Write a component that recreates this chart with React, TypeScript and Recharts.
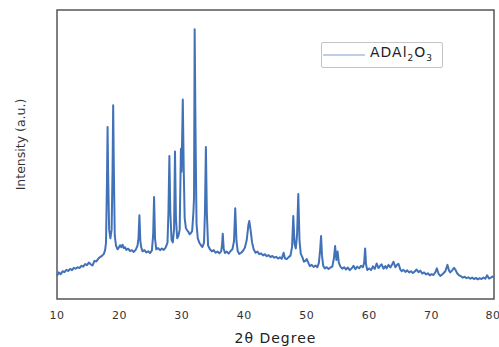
import { LineChart, Line, XAxis, YAxis, ReferenceArea, Legend, Label } from 'recharts';

// XRD pattern: [2θ, intensity (a.u., 0-100 = plot height)]
const lowAngle: [number, number][] = [
  [10.0, 8.0], [10.3, 9.2], [10.6, 8.6], [10.9, 9.6], [11.2, 9.3], [11.5, 10.1], [11.8, 9.7],
  [12.1, 10.4], [12.4, 10.0], [12.7, 10.8], [13.0, 10.5], [13.3, 11.0], [13.6, 10.7], [13.9, 11.5],
  [14.2, 11.2], [14.5, 12.1], [14.8, 11.7], [15.1, 12.6], [15.4, 12.0], [15.7, 11.6], [16.0, 13.2],
  [16.3, 13.0], [16.6, 13.9], [16.9, 14.5], [17.2, 14.9], [17.5, 15.6], [17.7, 16.8], [17.85, 19.5],
  [18.0, 40], [18.1, 59.5], [18.2, 42], [18.35, 24], [18.55, 21], [18.75, 24], [18.9, 45],
  [19.0, 67], [19.1, 46], [19.25, 22], [19.45, 18.5], [19.7, 17.2], [19.9, 17.8],
];

const midAngle: [number, number][] = [
  [20.1, 18.6], [20.3, 17.9], [20.5, 18.8], [20.7, 17.6], [20.9, 17.9], [21.1, 17.0], [21.4, 17.4],
  [21.7, 16.6], [22.0, 16.9], [22.3, 16.3], [22.6, 17.0], [22.9, 18.5], [23.05, 21], [23.2, 29],
  [23.35, 20], [23.5, 17.8], [23.7, 16.5], [24.0, 16.9], [24.3, 16.1], [24.6, 16.5], [24.9, 15.9],
  [25.2, 16.8], [25.4, 22], [25.55, 35.3], [25.7, 21], [25.9, 17.2], [26.2, 17.6], [26.5, 16.9],
  [26.8, 17.5], [27.1, 17.0], [27.4, 17.8], [27.7, 19.5], [27.85, 30], [28.0, 49.5], [28.15, 30],
  [28.35, 20.5], [28.55, 19.6], [28.75, 24], [28.9, 51], [29.05, 28], [29.25, 21], [29.45, 21.8],
  [29.65, 24], [29.85, 52], [29.95, 44], [30.15, 69], [30.3, 45], [30.45, 28], [30.65, 24.5],
  [30.85, 23.8], [31.05, 23.2], [31.25, 22.4], [31.45, 22.8], [31.65, 23.5], [31.85, 30], [31.95, 35],
  [32.05, 93.3], [32.2, 55], [32.35, 26], [32.55, 21], [32.8, 19.5], [33.05, 18.6], [33.3, 18.0],
  [33.55, 19.5], [33.7, 30], [33.85, 52.6], [34.0, 30], [34.2, 18.5], [34.5, 17.2], [34.8, 16.5],
  [35.1, 16.9], [35.4, 16.0], [35.7, 16.4], [36.0, 15.8], [36.3, 16.5], [36.45, 19], [36.55, 22.6],
  [36.7, 17.5], [36.9, 15.9], [37.2, 16.4], [37.5, 15.7], [37.8, 16.6], [38.1, 17.2], [38.35, 20],
  [38.55, 31.4], [38.75, 20], [38.95, 16.5], [39.2, 15.6], [39.5, 16.0], [39.8, 16.7], [40.1, 17.8],
  [40.4, 20.5], [40.65, 25.5], [40.8, 27], [41.0, 24], [41.25, 19.5], [41.5, 17.2], [41.8, 16.0],
];

const highAngle: [number, number][] = [
  [42.1, 16.4], [42.4, 15.5], [42.7, 15.8], [43.0, 15.1], [43.3, 15.5], [43.6, 14.8], [43.9, 15.2],
  [44.2, 14.5], [44.5, 14.9], [44.8, 14.3], [45.1, 14.6], [45.4, 14.0], [45.7, 14.4], [46.0, 13.9],
  [46.3, 16.0], [46.5, 14.1], [46.8, 13.8], [47.1, 14.5], [47.4, 15.0], [47.65, 18], [47.85, 28.7],
  [48.05, 19], [48.25, 17.5], [48.45, 22], [48.65, 36.3], [48.85, 20], [49.05, 15.6], [49.3, 14.5],
  [49.55, 12.9], [49.8, 13.2], [50.0, 13.8], [50.25, 12.6], [50.5, 11.4], [50.8, 11.8], [51.1, 11.1],
  [51.4, 11.6], [51.7, 11.0], [51.95, 12.5], [52.15, 17], [52.3, 21.8], [52.45, 15], [52.65, 11.4],
  [52.9, 10.6], [53.2, 11.0], [53.5, 10.4], [53.8, 10.9], [54.1, 11.2], [54.35, 14], [54.55, 18.3],
  [54.75, 13.5], [54.95, 16.4], [55.15, 12.5], [55.4, 11.2], [55.7, 10.5], [56.0, 11.0], [56.3, 10.2],
  [56.6, 10.9], [56.9, 10.0], [57.2, 10.6], [57.5, 11.5], [57.8, 10.3], [58.1, 11.2], [58.4, 10.6],
  [58.7, 11.5], [59.0, 11.0], [59.2, 12.5], [59.36, 17.5], [59.5, 12], [59.7, 10.0], [60.0, 10.6],
  [60.3, 10.0], [60.6, 11.3], [60.9, 10.4], [61.2, 12.3], [61.5, 10.7], [61.8, 11.6], [62.0, 12.0],
  [62.3, 10.5], [62.6, 11.4], [62.8, 10.6], [63.1, 11.8], [63.4, 10.9], [63.7, 12.0], [63.9, 12.9],
  [64.2, 11.0], [64.5, 11.9], [64.7, 12.2], [65.0, 10.2], [65.2, 9.6], [65.5, 10.1], [65.8, 9.4],
  [66.1, 9.9], [66.4, 9.2], [66.7, 9.6], [67.0, 9.0], [67.3, 9.5], [67.6, 10.2], [67.9, 9.3],
  [68.2, 9.8], [68.5, 8.8], [68.8, 9.2], [69.1, 8.5], [69.4, 8.9], [69.7, 8.2], [70.0, 8.6],
  [70.3, 8.3], [70.6, 9.2], [70.85, 10.6], [71.1, 8.8], [71.4, 8.0], [71.65, 8.4], [71.9, 8.9],
  [72.2, 9.6], [72.55, 11.8], [72.8, 9.8], [73.0, 9.2], [73.3, 9.9], [73.6, 10.8], [73.8, 10.2],
  [74.1, 8.9], [74.4, 8.2], [74.7, 7.9], [75.0, 7.4], [75.3, 7.7], [75.6, 7.2], [75.9, 7.5],
  [76.2, 7.0], [76.5, 7.4], [76.8, 6.9], [77.1, 7.3], [77.4, 6.8], [77.7, 7.2], [78.0, 6.9],
  [78.3, 7.4], [78.6, 7.0], [78.9, 8.2], [79.2, 7.1], [79.5, 7.4], [79.8, 7.8], [80.0, 7.5],
];

const xTicks = [10, 20, 30, 40, 50, 60, 70, 80];

const data = [...lowAngle, ...midAngle, ...highAngle].map(([theta, intensity]) => ({ theta, intensity }));

const font = '"DejaVu Sans", Verdana, sans-serif';

function LegendBox() {
  return (
    <div
      style={{
        boxSizing: 'border-box',
        width: 122,
        height: 26,
        border: '1.5px solid #c4c4c4',
        borderRadius: 2,
        background: '#fff',
        display: 'flex',
        alignItems: 'center',
      }}
    >
      <svg width={48} height={10} style={{ display: 'block' }}>
        <line x1={1} y1={5} x2={43} y2={5} stroke="#a6bfe0" strokeWidth={1.5} />
      </svg>
      <span style={{ fontFamily: font, fontSize: 14, color: '#222', letterSpacing: 1, lineHeight: '14px' }}>
        ADAl<sub style={{ fontSize: 9 }}>2</sub>O<sub style={{ fontSize: 9 }}>3</sub>
      </span>
    </div>
  );
}

export default function App() {
  return (
    <div style={{ position: 'absolute', left: 0, top: 0, background: '#fff' }}>
      <LineChart width={499} height={347} data={data} margin={{ top: 10, right: 5, bottom: 0, left: 0 }}>
        <XAxis
          dataKey="theta"
          type="number"
          domain={[10, 80]}
          ticks={xTicks}
          tickLine={false}
          axisLine={false}
          tickSize={6}
          tickMargin={6}
          height={48}
          tick={{ fill: '#333', fontSize: 11, fontFamily: font, letterSpacing: 0.5 }}
        >
          <Label
            content={({ viewBox }: any) => (
              <text
                x={viewBox.x + viewBox.width / 2}
                y={viewBox.y + 39}
                textAnchor="middle"
                dominantBaseline="central"
                fill="#222"
                fontSize={14}
                fontFamily={font}
                letterSpacing={1}
              >
                2θ Degree
              </text>
            )}
          />
        </XAxis>
        <YAxis type="number" domain={[0, 100]} tick={false} tickLine={false} axisLine={false} width={57}>
          <Label
            content={({ viewBox }: any) => {
              const x = viewBox.x + 20;
              const y = viewBox.y + viewBox.height / 2 - 10;
              return (
                <text
                  x={x}
                  y={y}
                  transform={`rotate(-90, ${x}, ${y})`}
                  textAnchor="middle"
                  dominantBaseline="central"
                  fill="#333"
                  fontSize={12.5}
                  fontFamily={font}
                >
                  Intensity (a.u.)
                </text>
              );
            }}
          />
        </YAxis>
        <Line
          type="linear"
          dataKey="intensity"
          name="ADAl2O3"
          stroke="#4172b8"
          strokeWidth={2}
          strokeLinejoin="round"
          dot={false}
          isAnimationActive={false}
        />
        <ReferenceArea x1={10} x2={80} y1={0} y2={100} fill="none" stroke="#555" strokeWidth={1.5} ifOverflow="visible" />
        <Legend
          layout="horizontal"
          align="center"
          verticalAlign="middle"
          content={() => <LegendBox />}
          wrapperStyle={{ left: 321, top: 42, width: 122, height: 26 }}
        />
      </LineChart>
    </div>
  );
}
